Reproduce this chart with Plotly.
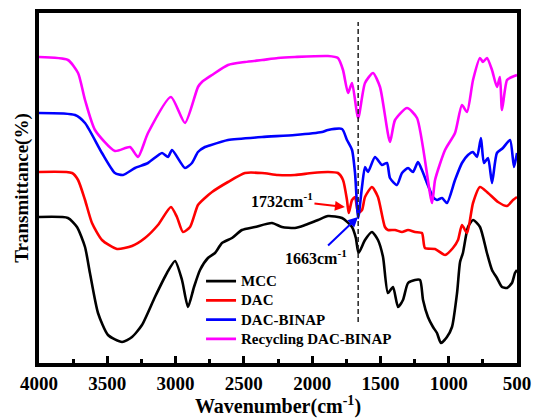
import plotly.graph_objects as go

# ---- data (y in arbitrary transmittance units) ----
mcc_wn = [4000, 3788, 3722, 3663, 3627, 3568, 3495, 3392, 3319, 3246, 3151, 3063, 3004, 2953, 2909,
          2865, 2821, 2763, 2711, 2660, 2587, 2514, 2419, 2294, 2221, 2126, 2052, 1957, 1884, 1781,
          1708, 1680, 1660, 1613, 1562, 1518, 1481, 1445, 1408, 1371, 1335, 1298, 1247, 1210, 1188,
          1152, 1115, 1086, 1057, 1013, 976, 939, 917, 896, 859, 822, 771, 720, 683, 647, 610, 573,
          537, 515, 500]
mcc_t = [146, 145, 136, 116, 90, 50, 28, 21, 26, 38, 66, 90, 102, 83, 56,
         76, 93, 105, 110, 120, 125, 133, 136, 140, 136, 135, 138, 143, 147, 145,
         136, 125, 110, 123, 131, 123, 106, 70, 76, 56, 63, 80, 83, 83, 63,
         46, 36, 30, 20, 26, 36, 70, 101, 110, 136, 143, 136, 110, 93, 85, 76, 75,
         80, 90, 93]

dac_wn = [4000, 3758, 3714, 3663, 3612, 3539, 3429, 3319, 3224, 3129, 3034, 2990, 2946, 2894, 2836,
          2785, 2733, 2616, 2492, 2367, 2250, 2126, 2001, 1884, 1811, 1774, 1745, 1732, 1708, 1686,
          1663, 1635, 1613, 1562, 1518, 1467, 1445, 1393, 1342, 1298, 1247, 1196, 1174, 1100, 1027,
          969, 932, 903, 866, 822, 771, 712, 639, 573, 529, 500]
dac_t = [191, 190, 183, 163, 140, 123, 114, 117, 125, 138, 156, 146, 131, 136, 158,
         165, 171, 181, 190, 190, 188, 188, 190, 191, 190, 183, 163, 150, 163, 166,
         150, 153, 166, 176, 166, 136, 133, 133, 131, 133, 131, 130, 115, 114, 108,
         115, 123, 138, 130, 160, 176, 170, 161, 157, 163, 166]

binap_wn = [4000, 3736, 3663, 3539, 3444, 3385, 3297, 3202, 3099, 3055, 3026, 2931, 2880, 2836, 2785,
            2763, 2616, 2367, 2126, 1928, 1884, 1781, 1745, 1708, 1686, 1663, 1635, 1613, 1591, 1540,
            1489, 1452, 1430, 1379, 1342, 1298, 1262, 1225, 1196, 1159, 1115, 1086, 1049, 1013, 954,
            903, 859, 822, 793, 764, 742, 712, 683, 647, 603, 551, 522, 500]
binap_t = [250, 248, 240, 210, 190, 188, 195, 200, 210, 206, 213, 195, 200, 211, 216,
           217, 223, 226, 228, 231, 233, 234, 223, 213, 190, 145, 176, 196, 191, 206,
           198, 200, 185, 178, 190, 195, 191, 201, 193, 180, 166, 163, 165, 160, 183,
           200, 208, 211, 206, 225, 200, 205, 180, 210, 215, 223, 196, 210]

recyc_wn = [4000, 3788, 3714, 3663, 3590, 3444, 3334, 3275, 3202, 3034, 2931, 2836, 2807, 2733, 2616,
            2492, 2367, 2250, 2126, 1884, 1811, 1774, 1737, 1708, 1663, 1613, 1554, 1503, 1430, 1393,
            1305, 1232, 1122, 1100, 1027, 954, 903, 866, 822, 771, 749, 720, 683, 647, 625, 610,
            573, 537, 500]
recyc_t = [306, 303, 290, 263, 233, 212, 216, 206, 230, 266, 240, 276, 281, 288, 298,
           301, 303, 305, 306, 307, 305, 293, 270, 280, 245, 280, 290, 276, 221, 243,
           255, 245, 160, 183, 213, 230, 258, 251, 283, 305, 301, 305, 293, 276, 286, 253,
           283, 286, 288]

series_names = ["MCC", "DAC", "DAC-BINAP", "Recycling DAC-BINAP"]
series_colors = ["#000000", "#ff0000", "#0000ff", "#ff00ff"]
series_x = [mcc_wn, dac_wn, binap_wn, recyc_wn]
series_y = [mcc_t, dac_t, binap_t, recyc_t]

x_ticks = [4000, 3500, 3000, 2500, 2000, 1500, 1000, 500]
marker_wn = 1663
# (label, label centre wn, label centre y, arrow head wn, arrow head y, colour)
peak_labels = [("1732cm<sup>-1</sup>", 2221, 163, 1760, 156, "#ff0000"),
               ("1663cm<sup>-1</sup>", 1972, 106, 1664, 146, "#0000ff")]

FONT = "Liberation Serif"

fig = go.Figure()
for name, col, xs, ys in zip(series_names, series_colors, series_x, series_y):
    fig.add_trace(go.Scatter(x=xs, y=ys, mode="lines",
                             name=f'<span style="font-size:15px">{name}</span>',
                             line=dict(color=col, width=2.6, shape="spline", smoothing=0.6)))

# dashed marker line
fig.add_shape(type="line", x0=marker_wn, x1=marker_wn, y0=41, y1=341, xref="x", yref="y",
              line=dict(color="#222222", width=1.5, dash="5px,3px"))

for txt, lx, ly, hx, hy, col in peak_labels:
    fig.add_annotation(x=hx, y=hy, ax=lx, ay=ly, xref="x", yref="y", axref="x", ayref="y",
                       text=txt, showarrow=True, arrowhead=2, arrowsize=1, arrowwidth=2,
                       arrowcolor=col,
                       font=dict(family=FONT, size=16, color="#000", weight="bold"))

fig.update_layout(
    width=535, height=418,
    margin=dict(l=39, r=18, t=13, b=55),
    plot_bgcolor="white", paper_bgcolor="white",
    showlegend=True,
    legend=dict(x=0.339, y=0.027, xanchor="left", yanchor="bottom",
                bgcolor="rgba(0,0,0,0)", borderwidth=0, tracegroupgap=0,
                font=dict(family=FONT, size=12.5, color="#000", weight="bold")),
    xaxis=dict(range=[4000, 500], tickvals=x_ticks, ticks="inside", ticklen=7, tickwidth=3,
               tickcolor="#000", showline=True, linewidth=3.5, linecolor="#000", mirror=True,
               showgrid=False, zeroline=False, automargin=False,
               minor=dict(dtick=250, tick0=500, ticks="inside", ticklen=4, tickwidth=3, tickcolor="#000"),
               tickfont=dict(family=FONT, size=19, color="#000", weight="bold"),
               title=dict(text="Wavenumber(cm<sup>-1</sup>)", standoff=8,
                          font=dict(family=FONT, size=20, color="#000", weight="bold"))),
    yaxis=dict(range=[0, 350], showticklabels=False, ticks="", showline=True, linewidth=3.5,
               linecolor="#000", mirror=True, showgrid=False, zeroline=False, automargin=False,
               title=dict(text="Transmittance(%)", standoff=3,
                          font=dict(family=FONT, size=19, color="#000", weight="bold"))),
)

fig.write_html("out.html")
